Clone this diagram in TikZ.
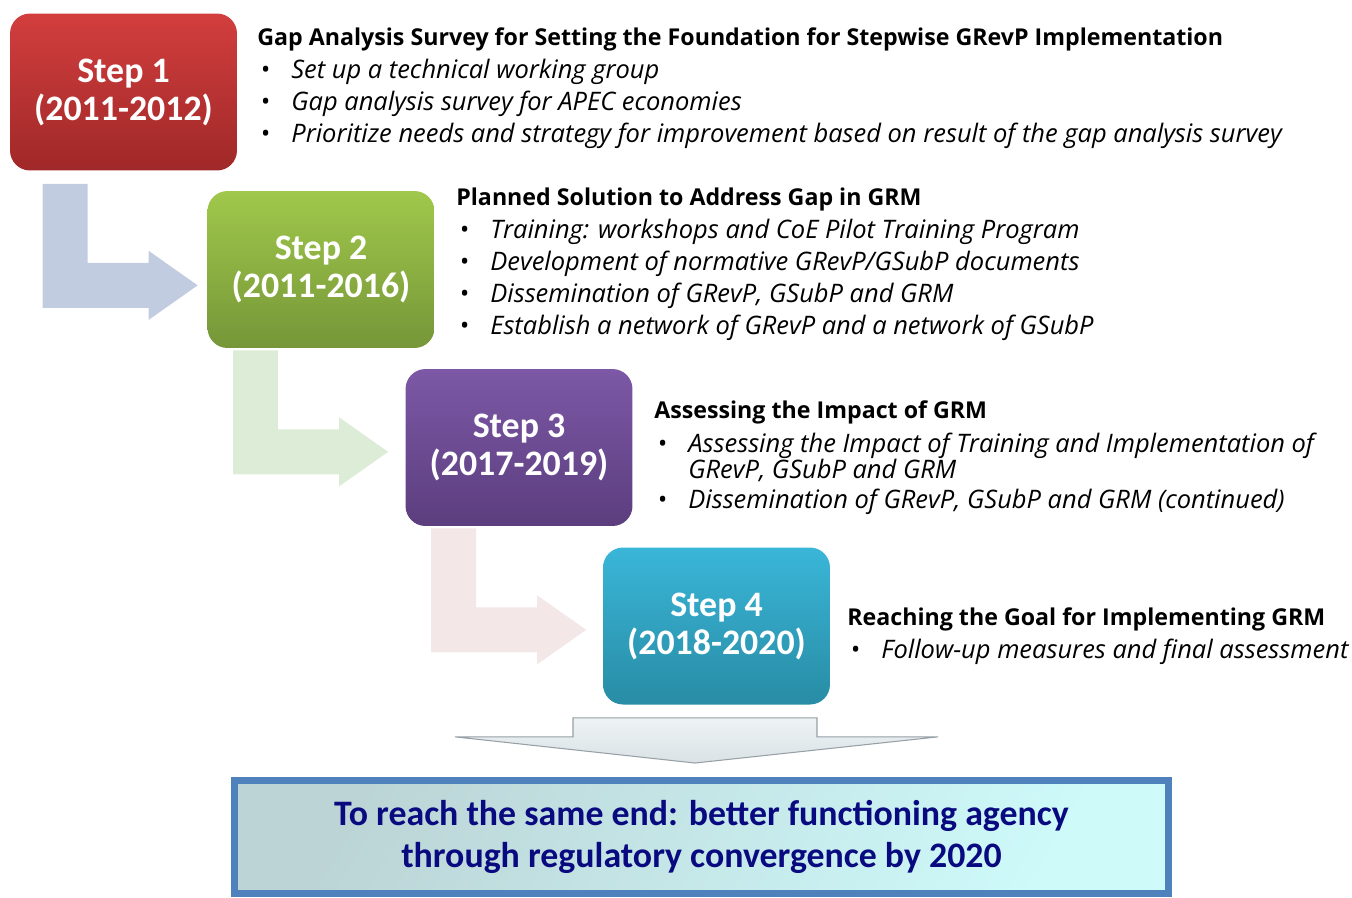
\documentclass[tikz,border=0pt]{standalone}
\usepackage{fontspec}
\setmainfont{Open Sans}
\newfontfamily\stepfont{Carlito}
\usepackage{tikz}
\usetikzlibrary{positioning,calc}

\definecolor{redtop}{RGB}{210,62,62}
\definecolor{redbot}{RGB}{160,40,40}
\definecolor{greentop}{RGB}{160,200,75}
\definecolor{greenbot}{RGB}{118,150,56}
\definecolor{purpletop}{RGB}{124,88,166}
\definecolor{purplebot}{RGB}{92,62,126}
\definecolor{cyantop}{RGB}{58,182,216}
\definecolor{cyanbot}{RGB}{40,140,165}
\definecolor{arrblue}{RGB}{193,204,224}
\definecolor{arrgreen}{RGB}{220,236,214}
\definecolor{arrpink}{RGB}{243,231,231}
\definecolor{goalline}{RGB}{79,129,189}
\definecolor{goallight}{RGB}{206,250,250}
\definecolor{goalgray}{RGB}{188,212,214}
\definecolor{goaltext}{RGB}{10,10,128}
\definecolor{downtop}{RGB}{238,243,245}
\definecolor{downbot}{RGB}{218,226,229}
\definecolor{downline}{RGB}{150,160,165}

\newcommand{\bul}[1]{\makebox[0.62cm][l]{\textbullet}#1}

\begin{document}
\begin{tikzpicture}[
    x=0.02cm, y=-0.02cm,
    stepbox/.style={rectangle, rounded corners=0.4cm, minimum width=4.54cm, minimum height=3.14cm, inner sep=0pt, align=center, text=white, font=\stepfont\bfseries\fontsize{20.4}{21.6}\selectfont},
    head/.style={anchor=west, inner sep=0pt, font=\bfseries\fontsize{13.2}{15}\selectfont},
    item/.style={anchor=west, inner sep=0pt, align=left, font=\itshape\fontsize{14.5}{14.8}\selectfont},
    goalbox/.style={rectangle, draw=goalline, line width=0.14cm, minimum width=18.68cm, minimum height=2.26cm, inner sep=0pt, align=center, text=goaltext, font=\stepfont\bfseries\fontsize{20.4}{24}\selectfont}
]
    \useasboundingbox (0,0) rectangle (1352,897);

    % step boxes
    \node[stepbox, top color=redtop, bottom color=redbot] (s1) at (123.5,92) {Step 1\\(2011-2012)};
    \node[stepbox, top color=greentop, bottom color=greenbot] (s2) at (321,269.5) {Step 2\\(2011-2016)};
    \node[stepbox, top color=purpletop, bottom color=purplebot] (s3) at (519,447.5) {Step 3\\(2017-2019)};
    \node[stepbox, top color=cyantop, bottom color=cyanbot] (s4) at (716.5,626) {Step 4\\(2018-2020)};

    % bent arrows between the steps
    \foreach \s/\col/\dx/\dy in {s1/arrblue/33/13, s2/arrgreen/26/2, s3/arrpink/26/2} {
        \fill[\col] ($(\s.south west)+(\dx,\dy)$) -- ++(45,0) -- ++(0,79) -- ++(61,0) -- ++(0,-12)
            -- ++(49,34.5) -- ++(-49,34.5) -- ++(0,-12) -- ++(-106,0) -- cycle;
    }

    % step 1
    \node[head] (h1) at (257,39) {Gap Analysis Survey for Setting the Foundation for Stepwise GRevP Implementation};
    \node[item] (i11) at (260,72) {\bul{Set up a technical working group}};
    \node[item] (i12) at (260,104) {\bul{Gap analysis survey for APEC economies}};
    \node[item] (i13) at (260,136) {\bul{Prioritize needs and strategy for improvement based on result of the gap analysis survey}};

    % step 2
    \node[head] (h2) at (456,199) {Planned Solution to Address Gap in GRM};
    \node[item] (i21) at (459,232) {\bul{Training: workshops and CoE Pilot Training Program}};
    \node[item] (i22) at (459,264) {\bul{Development of normative GRevP/GSubP documents}};
    \node[item] (i23) at (459,296) {\bul{Dissemination of GRevP, GSubP and GRM}};
    \node[item] (i24) at (459,328) {\bul{Establish a network of GRevP and a network of GSubP}};

    % step 3
    \node[head] (h3) at (654,412) {Assessing the Impact of GRM};
    \node[item] (i31) at (657,457) {\bul{Assessing the Impact of Training and Implementation of}\\\hspace*{0.62cm}GRevP, GSubP and GRM};
    \node[item] (i32) at (657,502) {\bul{Dissemination of GRevP, GSubP and GRM (continued)}};

    % step 4
    \node[head] (h4) at (847,619) {Reaching the Goal for Implementing GRM};
    \node[item] (i41) at (850,652) {\bul{Follow-up measures and final assessment}};

    % goal
    \node[goalbox, left color=goalgray, right color=goallight, shading angle=60] (goal) at (701.5,837) {To reach the same end: better functioning agency\\through regulatory convergence by 2020};

    % down arrow to the goal
    \draw[downline, line width=0.6pt, top color=downtop, bottom color=downbot]
        ($(s4.south)+(-143.5,13)$) -- ++(244,0) -- ++(0,19) -- ++(121,0)
        -- ($(goal.north)+(-6.5,-14)$) -- ($(s4.south)+(-261.5,32)$) -- ++(118,0) -- cycle;
\end{tikzpicture}
\end{document}
